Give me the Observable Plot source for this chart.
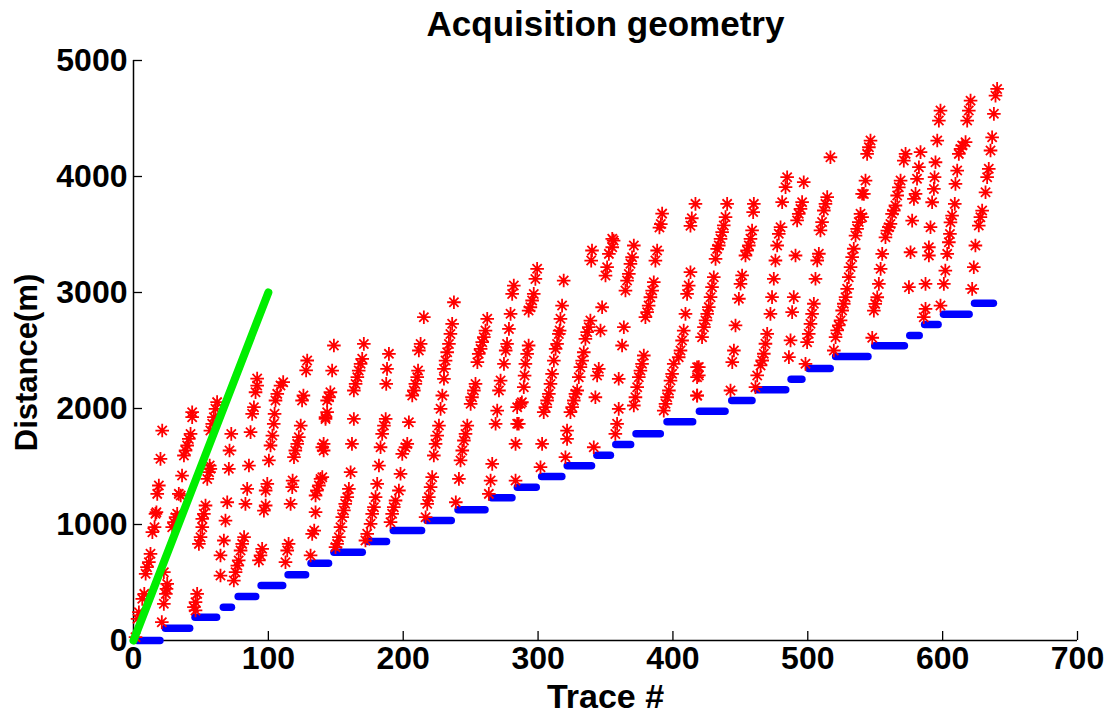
<!DOCTYPE html>
<html>
<head>
<meta charset="utf-8">
<script src="https://cdn.jsdelivr.net/npm/d3@7"></script>
<script src="https://cdn.jsdelivr.net/npm/@observablehq/plot@0.6"></script>
<style>
  body { margin: 0; background: #fff; }
</style>
</head>
<body>
<div id="chart"></div>
<script>
// Shot positions: each shot covers a run of consecutive traces at one distance
const shotStart = [3, 24, 46, 67, 78, 95, 115, 132, 149, 174, 193, 218, 241, 266, 285, 303, 322, 344, 358, 373, 396, 420, 444, 463, 488, 501, 521, 550, 576, 587, 601, 624];
const shotEnd   = [20, 42, 62, 73, 91, 111, 128, 145, 170, 188, 214, 236, 261, 281, 299, 318, 340, 354, 369, 391, 415, 439, 459, 484, 496, 517, 545, 572, 583, 597, 620, 638];
const shotDist  = [0, 105, 201, 287, 379, 474, 566, 667, 761, 853, 948, 1034, 1127, 1230, 1321, 1414, 1506, 1597, 1690, 1782, 1885, 1977, 2069, 2161, 2253, 2345, 2448, 2540, 2629, 2724, 2813, 2908];

// Reference line
const greenTrace = [0, 100];
const greenDist = [0, 3000];

// Receiver positions [trace, distance], traces 0-140
const redA = [[1.5,29],[3,187],[4,244],[6.5,359],[8,402],[9,575],[10,632],[11.4,675],[12.6,747],[14,934],[15.6,977],[16.3,1092],[17,1106],[17.6,1264],[18.8,1336],[20,1566],[21.3,1810],
[21,158],[22.5,316],[24,402],[24.5,445],[25,488],[22.5,589],[28.7,977],[30,1020],[31.2,1063],[32.4,1092],[33.6,1264],[35,1250],[36,1422],[37.4,1595],[38.6,1638],[39.8,1681],[41,1738],[42.3,1781],[43.5,1925],[43.5,1968],
[44.8,287],[46,330],[47.2,402],[46,259],[48.5,833],[49.7,891],[51,977],[51,1049],[52.2,1092],[53.4,1164],[54.7,1393],[56,1451],[57,1480],[56.5,1508],[57,1810],[58.4,1868],[59.6,1925],[60.8,1997],[62,2055],
[64.5,560],[64.5,733],[67,862],[68.2,1034],[69.5,1192],[70.7,1480],[71.2,1638],[72.5,1781],
[74.4,517],[75.7,589],[77,646],[78,690],[79.4,776],[80.6,833],[82,891],[83,1178],[84.3,1307],[85.6,1508],[86.8,1796],[88,1954],[89.3,2011],[90.5,2140],[91.7,2198],[91.7,2258],
[93,690],[94.2,733],[95.4,790],[96.7,1120],[98,1164],[98,1293],[99.2,1350],[100.4,1552],[101.6,1681],[103,1767],[104,1868],[104.6,1954],[105.3,2069],[106.6,2126],[109,2198],[111,2227],
[112.7,675],[114,776],[115,833],[116.5,1178],[117.7,1322],[118,1379],[119,1580],[120,1638],[121.4,1695],[122.6,1753],[124,1853],[125,2069],[126,2112],[128,2328],[128.8,2414],
[131.3,733],[132.5,919],[134,948],[135,1106],[135,1250],[136,1293],[137.5,1336],[138.7,1393],[140,1666],[141,1695],[142.4,1925],[143.6,1968]];

// traces 140-287
const redB = [[148.6,2543],[147.3,2327],[146,2140],[145,2097],[143.6,2069],[142.4,1910],[141,1638],[140,1408],
[170.8,2557],[169.6,2428],[168.4,2385],[167,2327],[166,2270],[164.7,2212],[163.4,2155],[163.4,1910],[162,1695],[161,1451],
[159.7,1307],[158.5,1236],[157,1178],[156,1121],[154.8,1063],[153.5,977],[152.3,891],[151,833],[149.8,805],
[189.4,2471],[188,2342],[187.4,2212],[187,1910],[185.7,1853],[184.4,1781],[183.2,1666],[182,1508],[180.7,1350],[179.5,1236],[178.3,1149],[177,1092],[175.8,1006],[173.3,920],[172,862],
[212.9,2557],[211.6,2500],[211,2327],[210.4,2270],[209,2212],[207.9,2155],[206.7,2112],[204.2,1882],[203,1695],[201.7,1666],[199.3,1609],[198,1437],[196.8,1293],[194.3,1207],[193,1149],[191.8,1092],[190.6,1020],
[215.3,2787],[237.6,2916],[236.3,2730],[235,2643],[233.9,2557],[232.6,2485],[231.4,2413],[230.2,2342],[230.2,2256],[229,2112],[227.7,1997],[226.5,1853],[225.2,1767],[224,1695],[222.7,1595],[221.5,1408],[220.3,1322],[219,1236],[217.8,1178],[216.6,1063],[239,1192],
[262.3,2773],[261,2672],[259.8,2615],[258.6,2572],[257.4,2514],[256,2471],[255,2399],[253.6,2212],[252.4,2155],[251,2097],[250,2040],[247.5,1853],[246.2,1781],[245,1724],[243.8,1638],[242.5,1552],[241.3,1393],
[266,1523],[264.8,1379],[263.5,1264],
[282,3060],[280.8,2988],[279.6,2816],[278.4,2686],[277,2557],[276,2500],[274.7,2385],[272.2,2241],[271,2155],[269.7,1982],[268.5,1868],[284.5,2011],[284.5,1868],[283.3,1695],[283.3,1379]];

// traces 287-420
const redC = [[299.3,3204],[298,3117],[296.8,2988],[295.6,2931],[294.3,2873],[293,2844],[293,2543],[291.9,2471],[290.6,2385],[290,2284],[289.4,2184],[288,2054],[287,2040],[285.7,1868],
[319,3103],[317.8,2887],[316.6,2773],[316,2672],[315.4,2643],[314.1,2557],[313,2514],[311.7,2413],[310.4,2299],[309.2,2212],[308,2126],[306.7,2069],[305.4,2011],[304.2,1968],[303,1695],[301.8,1494],
[321.5,1810],[321.5,1738],[320.3,1580],
[340,3362],[339.4,3275],[338.8,2758],[337.6,2701],[336.4,2658],[335.1,2600],[333.9,2485],[332.7,2413],[331.4,2356],[330.2,2270],[329,2155],[327.7,2126],[326.5,2069],[325.3,2011],[324,1968],
[347.5,2873],[346.3,2672],[345,2342],[343.8,2284],[342.5,2097],[341.3,1666],
[356,3448],[355,3390],[352.5,3333],[351.2,3218],[350,3146],[355,3463],
[363.6,2701],[362.3,2543],[359.8,2256],[359.8,1997],[358.6,1868],[357.3,1781],
[371,3405],[369.7,3304],[368.5,3247],[367.3,3160],[366,3103],[364.8,3017],
[378.4,2457],[377.1,2385],[375.9,2327],[374.7,2270],[373.5,2184],[372.2,2097],[371,2026],
[392,3680],[391,3590],[390,3560],[388.3,3362],[387,3275],[385.8,3089],[384.6,3017],[383.3,2959],[382,2887],[380.9,2830],[379.6,2787],
[400.6,2385],[399.4,2299],[398.2,2241],[397,2155],[395.7,2097],[394.5,2040],[393.2,1982],
[408,2672],[406.8,2586],[405.6,2500],[404.3,2442],
[416.7,3764],[414,3640],[413,3575],[413,3175],[411.7,3060],[410.5,2988],[409.3,2816],
[417.9,2356],[417.9,2270],[417.9,2111]];

// traces 418-552
const redD = [[419.2,2357],[419.2,2285],[418,2112],
[440.2,3764],[439,3650],[437.7,3578],[436.5,3520],[435.3,3463],[434,3405],[432.8,3376],[431.6,3290],
[430.3,3132],[429,3046],[427.9,2960],[426.6,2874],[425.4,2816],[424.2,2759],[423,2701],[421.6,2615],
[446.4,2716],[445.2,2500],[444,2400],[442.7,2155],
[460,3764],[459.5,3693],[458.7,3535],[457.5,3463],[456.3,3405],[455,3362],[453.8,3319],
[451.3,3147],[450.1,3075],[448.9,2946],
[484.7,3994],[483.5,3908],[481,3779],[479.8,3563],[478.5,3506],[477.3,3405],[476,3276],[474.8,3118],[473.5,2960],
[472.3,2816],[469.9,2644],[468.6,2558],[467.4,2472],[466.2,2414],[465,2371],[462.5,2285],[461.2,2184],
[497,3951],[495.8,3779],[494.6,3721],[493.3,3678],[492.1,3621],
[490.9,3319],[489.6,2960],[488.4,2831],[487.2,2587],[486,2443],
[516.8,4166],[514.4,3822],[513.1,3764],[511.9,3707],[510.6,3607],[509.4,3535],
[508.2,3334],[507,3276],[505.7,3118],
[504.5,2903],[503.2,2816],[502,2730],[500.7,2644],[499.5,2572],[498.3,2385],
[542.8,3965],[540.3,3851],[539.1,3678],[537.8,3607],[536.6,3549],[535.4,3491],
[534.1,3377],[532.9,3305],[531.7,3219],[530.4,3132],[529.2,3032],[528,2960],[526.7,2903],[525.5,2845],[524.3,2759],[523,2716],[521.8,2673],[520.6,2615],[519.3,2500],
[547.8,2610]];

// traces 540-641
const redE = [[546.5,4310],[545.3,4252],[544,4195],[541.6,3850],[540.3,3649],
[549,2844],[550,2902],[551.5,2959],[552.7,3074],[554,3204],[555.2,3333],
[557.6,3476],[559,3534],[560.1,3563],[561.3,3591],[562.5,3678],[563.8,3706],[565,3750],[566.3,3836],[567.5,3907],[568.8,3965],[571.2,4137],[572.5,4195],
[575,3046],[576.2,3347],[577.4,3620],[578.7,3807],[579.9,3850],[581,3980],[582.4,4080],[583.6,4210],
[586,2787],[587.3,2859],[587.3,3074],[589.8,3319],[589.8,3390],[591,3563],[592.2,3778],[593.5,3893],[594,3994],[594.7,4123],[596,4310],[597.2,4482],[598.4,4568],
[598.4,2887],[600.9,3074],[602,3189],[603.4,3333],[604.6,3433],[605.4,3505],[605.8,3605],[607,3663],[609,3764],[609.5,3936],[610.8,4051],[612,4195],[613.3,4238],[614.5,4267],[617,4296],[618.2,4482],[619.4,4568],[620.7,4654],
[621.9,3031],[623.1,3218],[624.3,3405],[626.8,3577],[628,3649],[629.3,3706],[631.8,3864],[633,3994],[634.2,4066],[635.5,4224],[636.7,4338],[638,4540],[639.2,4697],[640.4,4755]];

const xTicks = [0, 100, 200, 300, 400, 500, 600, 700];
const yTicks = [0, 1000, 2000, 3000, 4000, 5000];

const shots = shotDist.map((d, i) => ({x1: shotStart[i], x2: shotEnd[i], y: d}));
const receivers = [...redA, ...redB, ...redC, ...redD, ...redE];
const refLine = greenTrace.map((t, i) => ({x: t, y: greenDist[i]}));

// Eight-armed asterisk marker: a plus with slightly shorter diagonals
const asterisk8 = {
  draw(context, size) {
    const r = Math.sqrt(size / Math.PI);
    const d = r * 0.68;
    context.moveTo(-r, 0); context.lineTo(r, 0);
    context.moveTo(0, -r); context.lineTo(0, r);
    context.moveTo(-d, -d); context.lineTo(d, d);
    context.moveTo(-d, d); context.lineTo(d, -d);
  }
};

const fontFamily = "'Liberation Sans', Arial, Helvetica, sans-serif";
const plain = d => String(d);

const chart = Plot.plot({
  width: 1114,
  height: 719,
  marginLeft: 133,
  marginRight: 37,
  marginTop: 60,
  marginBottom: 79,
  x: {domain: [0, 700]},
  y: {domain: [0, 5000]},
  style: {fontFamily, fontWeight: "bold", background: "#ffffff", color: "#000"},
  marks: [
    Plot.ruleY([0], {stroke: "#000", strokeWidth: 1.5}),
    Plot.ruleX([0], {stroke: "#000", strokeWidth: 1.5}),
    Plot.axisX(xTicks, {tickSize: 9, dy: -9, tickFormat: () => "", label: null, stroke: "#000", strokeWidth: 1.3}),
    Plot.axisX(xTicks, {tickSize: 0, tickPadding: 6, tickFormat: plain, fontSize: 32, label: null, fill: "#000"}),
    Plot.axisY(yTicks, {tickSize: 9, dx: 9, tickFormat: () => "", label: null, stroke: "#000", strokeWidth: 1.3}),
    Plot.axisY(yTicks, {tickSize: 0, tickPadding: 6, tickFormat: plain, fontSize: 32, label: null, fill: "#000"}),
    Plot.ruleY(shots, {x1: "x1", x2: "x2", y: "y", stroke: "#0000ff", strokeWidth: 7.5, strokeLinecap: "round"}),
    Plot.dot(receivers, {x: d => d[0], y: d => d[1], symbol: asterisk8, r: 6.8, stroke: "#ff0000", fill: "none", strokeWidth: 1.8}),
    Plot.line(refLine, {x: "x", y: "y", stroke: "#00ee00", strokeWidth: 8, strokeLinecap: "round"}),
    Plot.text(["Acquisition geometry"], {frameAnchor: "top", dy: -49, fontSize: 35, fontWeight: "bold", fill: "#000"}),
    Plot.text(["Trace #"], {frameAnchor: "bottom", dy: 67, fontSize: 34, fontWeight: "bold", fill: "#000"}),
    Plot.text(["Distance(m)"], {frameAnchor: "left", dx: -106, dy: 12, rotate: -90, textAnchor: "middle", fontSize: 31, fontWeight: "bold", fill: "#000"})
  ]
});

document.getElementById("chart").appendChild(chart);
</script>
</body>
</html>
